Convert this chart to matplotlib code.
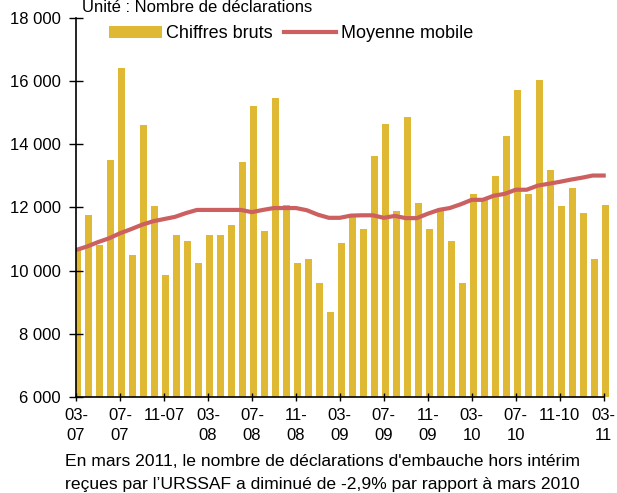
'''
Declarations d'embauche hors interim recues par l'URSSAF
'''

import matplotlib
matplotlib.use('Agg')
import matplotlib.pyplot as plt
from matplotlib.ticker import FuncFormatter

plt.rcParams['font.family'] = ['Liberation Sans', 'DejaVu Sans']

# monthly raw figures, 03-07 .. 03-11
chiffres_bruts = [
    10650, 11770, 10810, 13500, 16430, 10490, 14610, 12030, 9850, 11130,
    10940, 10240, 11130, 11130, 11450, 13430, 15220, 11260, 15480, 12090,
    10240, 10360, 9600, 8700, 10870, 11710, 11320, 13620, 14650, 11900,
    14870, 12150, 11320, 11900, 10940, 9600, 12410, 12220, 12990, 14260,
    15730, 12410, 16050, 13180, 12030, 12600, 11830, 10360, 12090,
]

moyenne_mobile = [
    10650, 10760, 10900, 11020, 11180, 11310, 11450, 11560, 11630, 11700,
    11820, 11920, 11920, 11920, 11920, 11920, 11850, 11920, 11980, 11980,
    11980, 11910, 11770, 11670, 11670, 11740, 11750, 11750, 11670, 11730,
    11660, 11660, 11800, 11920, 11980, 12100, 12240, 12240, 12370, 12430,
    12560, 12560, 12690, 12750, 12810, 12880, 12940, 13010, 13010,
]

tick_labels = ['03-\n07', '07-\n07', '11-07', '03-\n08', '07-\n08', '11-\n08',
               '03-\n09', '07-\n09', '11-\n09', '03-\n10', '07-\n10', '11-10',
               '03-\n11']

y_ticks = [6000, 8000, 10000, 12000, 14000, 16000, 18000]

BAR_COLOR = '#DFB934'
LINE_COLOR = '#CC6060'


def thousands(value, _pos):
    '''
    Format tick values like "18 000"
    '''
    return f'{int(value):,}'.replace(',', ' ')


def plot_chart():
    '''
    Draw bars, moving average and the texts around them
    '''
    fig = plt.figure(figsize=(6.17, 4.93), dpi=100)
    ax = fig.add_axes([0.1232, 0.1953, 0.865, 0.768])

    months = list(range(len(chiffres_bruts)))
    bar_x = [m + 0.15 for m in months]
    bars = ax.bar(bar_x, chiffres_bruts, width=0.68, color=BAR_COLOR,
                  label='Chiffres bruts', zorder=1)
    line, = ax.plot(months, moyenne_mobile, color=LINE_COLOR, linewidth=3,
                    label='Moyenne mobile', zorder=3)

    # a bit of room on the right so the last bar is not cut
    ax.set_xlim(0, 48.55)
    ax.set_ylim(6000, 18000)
    ax.set_yticks(y_ticks)
    ax.yaxis.set_major_formatter(FuncFormatter(thousands))
    ax.set_xticks(list(range(0, 49, 4)))
    ax.set_xticklabels(tick_labels, linespacing=1.45)

    ax.tick_params(axis='y', direction='inout', length=10, width=1,
                   pad=6, labelsize=12)
    ax.tick_params(axis='x', direction='inout', length=6, width=1,
                   pad=5, labelsize=12)

    for side in ['top', 'right']:
        ax.spines[side].set_visible(False)
    for side in ['left', 'bottom']:
        ax.spines[side].set_linewidth(1.2)
        ax.spines[side].set_zorder(4)
    ax.spines['bottom'].set_bounds(0, 48)

    ax.legend([bars, line], ['Chiffres bruts', 'Moyenne mobile'],
              loc='center', bbox_to_anchor=(0.403, 0.958), ncol=2,
              frameon=False, fontsize=13, handlelength=2.9,
              handletextpad=0.25, columnspacing=0.6)

    fig.text(0.133, 0.999, 'Unité : Nombre de déclarations',
             fontsize=12, va='top', ha='left')
    fig.text(0.522, 0.063,
             "En mars 2011, le nombre de déclarations d'embauche hors intérim",
             fontsize=12.6, ha='center', va='center')
    fig.text(0.522, 0.018,
             'reçues par l’URSSAF a diminué de -2,9% par rapport à mars 2010',
             fontsize=12.6, ha='center', va='center')

    fig.savefig('out.png', dpi=100)


def run():
    '''
    Build the figure and save it
    '''
    plot_chart()


run()
